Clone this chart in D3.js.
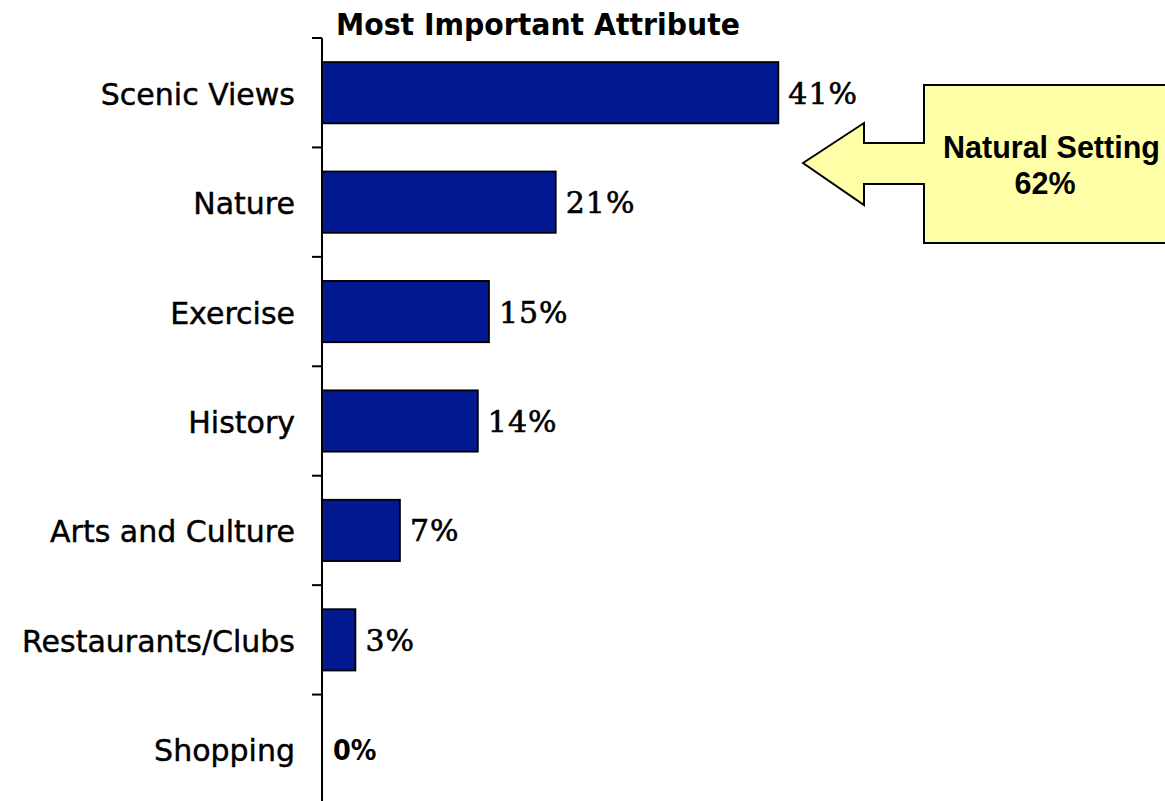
<!DOCTYPE html>
<html>
<head>
<meta charset="utf-8">
<script src="https://cdn.jsdelivr.net/npm/d3@7"></script>
<style>
  html, body { margin: 0; padding: 0; background: #fff; }
  svg { display: block; }
  .cat { font-family: "DejaVu Sans", Verdana, sans-serif; font-size: 30px; fill: #000; stroke: #000; stroke-width: 0.45px; }
  .val { font-family: "DejaVu Serif", serif; font-size: 30px; fill: #000; letter-spacing: 1px; stroke: #000; stroke-width: 0.6px; }
  .val-zero { font-family: "DejaVu Sans Condensed", "DejaVu Sans", sans-serif; font-weight: bold; font-size: 28.5px; fill: #000; }
  .title { font-family: "DejaVu Sans", sans-serif; font-weight: bold; font-size: 30px; fill: #000; }
  .callout-text { font-family: "Liberation Sans", Arial, sans-serif; font-weight: bold; font-size: 30.5px; fill: #000; }
</style>
</head>
<body>
<svg id="chart" width="1165" height="801"></svg>
<script>
// Share of respondents naming each attribute as the most important one
const categories = ["Scenic Views", "Nature", "Exercise", "History", "Arts and Culture", "Restaurants/Clubs", "Shopping"];
const values = [41, 21, 15, 14, 7, 3, 0];
const titleText = "Most Important Attribute";
const calloutLines = ["Natural Setting", "62%"];

const svg = d3.select("#chart");
const W = 1165, H = 801;
const axisX = 322, plotTop = 38, plotBottom = 804;

const x = d3.scaleLinear().domain([0, 50]).range([axisX, axisX + 556.5]);
const y = d3.scaleBand()
  .domain(categories)
  .range([plotTop, plotBottom])
  .paddingInner(0.44)
  .paddingOuter(0.22);

const rows = categories.map((c, i) => ({ cat: c, v: values[i] }));

// Title
svg.append("text")
  .attr("class", "title")
  .attr("x", 538)
  .attr("y", 35)
  .attr("text-anchor", "middle")
  .attr("textLength", 404)
  .attr("lengthAdjust", "spacingAndGlyphs")
  .text(titleText);

// Bars
svg.append("g").selectAll("rect")
  .data(rows.filter(d => d.v > 0))
  .join("rect")
  .attr("x", x(0))
  .attr("y", d => y(d.cat))
  .attr("width", d => x(d.v) - x(0))
  .attr("height", y.bandwidth())
  .attr("fill", "#031991")
  .attr("stroke", "#000")
  .attr("stroke-width", 1.8);

// Category axis: line, boundary ticks between categories, labels
const axisG = svg.append("g");
axisG.append("line")
  .attr("x1", axisX).attr("x2", axisX)
  .attr("y1", plotTop).attr("y2", H + 5)
  .attr("stroke", "#000").attr("stroke-width", 2);

const step = y.step();
const boundaries = d3.range(categories.length + 1).map(i => y.range()[0] + i * step);
axisG.selectAll("line.tick")
  .data(boundaries)
  .join("line")
  .attr("class", "tick")
  .attr("x1", axisX - 10).attr("x2", axisX)
  .attr("y1", d => d).attr("y2", d => d)
  .attr("stroke", "#000").attr("stroke-width", 2);

axisG.selectAll("text.cat")
  .data(categories)
  .join("text")
  .attr("class", "cat")
  .attr("x", 295)
  .attr("y", d => y(d) + y.bandwidth() / 2 + 12)
  .attr("text-anchor", "end")
  .text(d => d);

// Value labels
svg.append("g").selectAll("text")
  .data(rows)
  .join("text")
  .attr("class", d => d.v === 0 ? "val-zero" : "val")
  .attr("x", d => x(d.v) + (d.v === 0 ? 11 : 10))
  .attr("y", d => y(d.cat) + y.bandwidth() / 2 + 11)
  .text(d => d.v + "%");

// Callout box with left-pointing arrow
const callout = svg.append("g");
const pts = [
  [803, 163], [864, 123], [864, 143], [924, 143], [924, 85],
  [1175, 85], [1175, 243], [924, 243], [924, 184], [864, 184], [864, 205]
];
callout.append("path")
  .attr("d", d3.line()(pts) + "Z")
  .attr("fill", "#FFFFA8")
  .attr("stroke", "#000")
  .attr("stroke-width", 2)
  .attr("stroke-linejoin", "miter");

callout.append("text")
  .attr("class", "callout-text")
  .attr("x", 943)
  .attr("y", 158)
  .text(calloutLines[0]);
callout.append("text")
  .attr("class", "callout-text")
  .attr("x", 1045)
  .attr("y", 194)
  .attr("text-anchor", "middle")
  .text(calloutLines[1]);
</script>
</body>
</html>
